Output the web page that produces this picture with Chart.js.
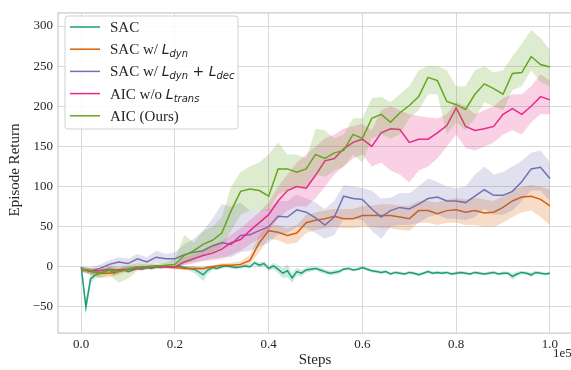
<!DOCTYPE html>
<html>
<head>
<meta charset="utf-8">
<script src="https://cdn.jsdelivr.net/npm/chart.js@4.4.1/dist/chart.umd.min.js"></script>
<style>
  html, body { margin: 0; padding: 0; background: #ffffff; }
  #chart { display: block; }
</style>
</head>
<body>
<canvas id="chart" width="571" height="370"></canvas>
<script>
// x positions are in units of 1e5 steps
const steps = [];
for (let i = 0; i <= 50; i++) steps.push(i / 50);
const sacSteps = [];
for (let i = 0; i <= 100; i++) sacSteps.push(i / 100);

const sacMean = [0,-50,-15,-10,-8,-6,-4,-8,-5,-3, -6,-4,-2,-3,-1,-2,0,-1,1,0,
  0,1,-1,-2,-3,-6,-10,-4,-1,-2, 0,1,0,-1,0,1,0,5,2,4,
  -2,1,-3,-8,-5,-14,-6,-8,-4,-3, -2,-4,-6,-8,-7,-6,-3,-2,-4,-3,
  -1,-3,-5,-6,-7,-6,-9,-7,-8,-9, -7,-8,-10,-8,-6,-8,-7,-8,-7,-9,
  -8,-7,-8,-9,-7,-8,-9,-8,-7,-9, -8,-8,-12,-9,-7,-8,-10,-7,-8,-9, -8];
const sacSpread = [0,10,6,4,3,3,3,3,3,2, 2,2,2,2,2,2,2,2,2,2,
  2,2,2,3,4,6,8,5,3,2, 2,2,2,2,2,2,2,3,3,3,
  3,4,5,6,8,6,5,4,3,3, 2,3,3,3,3,3,2,2,2,2,
  2,2,2,2,2,2,2,2,2,2, 2,2,2,2,2,2,2,2,2,2,
  2,2,2,2,2,2,2,2,2,2, 2,2,4,3,2,2,3,2,2,2, 2];

const dynMean = [-3,-6,-8,-8,-6,-3,0,0,1,0, -1,-2,-2,-2,0,2,2,3,8,30,
  45,43,39,42,55,58,60,63,60,60, 64,64,64,64,62,60,70,70,66,70,
  71,68,70,67,68,74,82,87,88,84, 76];
const dynLo = [-6,-10,-14,-13,-10,-6,-2,-2,-1,-2, -3,-4,-4,-4,-2,0,0,0,3,18,
  35,33,28,30,42,46,48,50,48,48, 50,50,48,48,46,45,55,55,52,55,
  55,52,52,50,50,55,62,68,70,62, 52];
const dynHi = [0,-2,-3,-3,-2,0,2,2,3,2, 1,0,0,0,2,4,5,7,15,40,
  52,52,48,52,65,68,70,72,72,72, 76,76,78,78,76,76,82,82,80,84,
  86,84,86,84,82,88,95,100,102,100, 96];

const decMean = [-3,-5,-2,3,6,4,10,6,12,10, 10,15,18,20,26,30,28,39,40,45,
  50,63,62,71,68,61,52,62,88,85, 84,72,62,70,74,72,78,85,87,82,
  82,80,88,96,89,89,94,106,122,124, 110];
const decLo = [-6,-9,-6,-2,0,-2,3,0,5,3, 3,5,6,8,10,12,12,18,20,25,
  30,40,42,50,48,42,35,40,60,60, 58,45,35,50,52,52,55,62,65,60,
  60,58,62,72,65,65,70,82,95,95, 82];
const decHi = [0,-1,3,8,12,10,16,12,20,16, 18,28,35,45,60,78,75,80,70,70,
  72,82,82,90,85,80,72,82,102,100, 98,95,85,86,92,92,100,110,106,100,
  98,100,115,125,115,118,125,132,142,145, 130];

const noTransMean = [-3,-5,-5,-3,-4,-3,-2,-1,0,0, 0,6,10,14,17,22,30,34,45,55,
  65,82,95,100,98,114,132,135,147,155, 159,150,167,172,171,155,159,159,167,176,
  198,175,170,172,175,190,197,190,200,212, 208];
const noTransLo = [-6,-8,-8,-6,-7,-6,-4,-3,-2,-2, -2,2,4,7,8,10,15,20,28,35,
  45,60,70,75,75,85,100,115,125,135, 140,125,130,120,115,105,120,125,135,150,
  165,148,145,150,155,165,170,165,180,190, 190];
const noTransHi = [0,-2,-2,0,-1,0,0,1,2,2, 3,12,16,22,28,32,40,48,58,68,
  80,100,115,130,140,150,160,165,172,175, 178,170,195,200,195,190,188,186,185,190,
  205,200,190,195,200,210,215,215,225,240, 232];

const oursMean = [-3,-5,-8,-4,-6,-3,0,0,1,2, 3,14,20,28,33,42,70,94,97,95,
  88,122,122,118,122,140,135,142,145,165, 160,185,190,180,192,201,212,236,232,206,
  202,196,215,228,222,215,241,242,262,252, 249];
const oursLo = [-6,-10,-14,-10,-20,-15,-5,-3,-2,0, 0,3,8,15,18,25,45,65,70,70,
  70,90,95,100,100,115,112,120,125,140, 130,160,165,160,165,185,195,215,215,165,
  180,170,185,205,200,195,220,225,245,230, 225];
const oursHi = [0,-2,-3,2,0,2,4,3,4,5, 10,40,30,45,50,62,100,118,125,130,
  140,155,140,140,135,172,170,160,165,185, 185,210,212,205,215,225,245,250,250,245,
  225,225,245,250,242,245,262,278,295,285, 270];

const xTicks = [0, 0.2, 0.4, 0.6, 0.8, 1.0];
const yTicks = [-50, 0, 50, 100, 150, 200, 250, 300];

const SERIF = '"Liberation Serif", "Times New Roman", serif';
const MATH = '"DejaVu Sans", sans-serif';
const TEXT = '#262626';

const series = [
  { label: 'SAC', color: '#1b9e77', rgb: '27,158,119', xs: sacSteps, mean: sacMean,
    lo: sacMean.map((v, i) => v - sacSpread[i]), hi: sacMean.map((v, i) => v + sacSpread[i]),
    parts: [['SAC', 't']] },
  { label: 'SAC w/ Ldyn', color: '#d95f02', rgb: '217,95,2', xs: steps, mean: dynMean, lo: dynLo, hi: dynHi,
    parts: [['SAC w/ ', 't'], ['L', 'm'], ['dyn', 's']] },
  { label: 'SAC w/ Ldyn + Ldec', color: '#7570b3', rgb: '117,112,179', xs: steps, mean: decMean, lo: decLo, hi: decHi,
    parts: [['SAC w/ ', 't'], ['L', 'm'], ['dyn', 's'], [' + ', 'r'], ['L', 'm'], ['dec', 's']] },
  { label: 'AIC w/o Ltrans', color: '#e7298a', rgb: '231,41,138', xs: steps, mean: noTransMean, lo: noTransLo, hi: noTransHi,
    parts: [['AIC w/o ', 't'], ['L', 'm'], ['trans', 's']] },
  { label: 'AIC (Ours)', color: '#66a61e', rgb: '102,166,30', xs: steps, mean: oursMean, lo: oursLo, hi: oursHi,
    parts: [['AIC (Ours)', 't']] }
];

const toPts = (xs, ys) => xs.map((x, i) => ({ x: x, y: ys[i] }));

const datasets = [];
series.forEach((s, k) => {
  const order = 100 - k * 3;
  datasets.push({
    label: s.label + ' lo', data: toPts(s.xs, s.lo), borderWidth: 0, pointRadius: 0,
    fill: false, order: order
  });
  datasets.push({
    label: s.label + ' hi', data: toPts(s.xs, s.hi), borderWidth: 0, pointRadius: 0,
    fill: '-1', backgroundColor: 'rgba(' + s.rgb + ',0.22)', order: order
  });
  datasets.push({
    label: s.label, data: toPts(s.xs, s.mean), borderColor: s.color, borderWidth: 1.5,
    pointRadius: 0, fill: false, order: order - 1
  });
});

const framePlugin = {
  id: 'frame',
  afterDatasetsDraw(chart) {
    const { ctx, chartArea: a } = chart;
    ctx.save();
    ctx.strokeStyle = '#cccccc';
    ctx.lineWidth = 1.25;
    ctx.beginPath();
    ctx.moveTo(a.right + 5, a.top);
    ctx.lineTo(a.left, a.top);
    ctx.lineTo(a.left, a.bottom);
    ctx.lineTo(a.right + 5, a.bottom);
    ctx.stroke();
    ctx.restore();
  }
};

function drawParts(ctx, x, base, parts) {
  parts.forEach(([txt, kind]) => {
    let dy = 0;
    if (kind === 't') ctx.font = '15px ' + SERIF;
    else if (kind === 'm') ctx.font = 'italic 14px ' + MATH;
    else if (kind === 's') { ctx.font = 'italic 10px ' + MATH; dy = 3; }
    else ctx.font = '14px ' + MATH;
    ctx.fillText(txt, x, base + dy);
    x += ctx.measureText(txt).width;
  });
}

const textPlugin = {
  id: 'texts',
  afterDraw(chart) {
    const ctx = chart.ctx;
    ctx.save();
    ctx.fillStyle = TEXT;
    ctx.font = '15px ' + SERIF;
    ctx.textAlign = 'center';
    ctx.textBaseline = 'middle';
    ctx.fillText('Steps', 315, 360);
    ctx.textAlign = 'left';
    ctx.font = '13px ' + SERIF;
    ctx.fillText('1e5', 553, 354);
    ctx.translate(15, 170);
    ctx.rotate(-Math.PI / 2);
    ctx.textAlign = 'center';
    ctx.font = '15px ' + SERIF;
    ctx.fillText('Episode Return', 0, 0);
    ctx.restore();

    // legend
    ctx.save();
    const bx = 65, by = 16, bw = 173, bh = 113, r = 3;
    ctx.beginPath();
    ctx.moveTo(bx + r, by);
    ctx.arcTo(bx + bw, by, bx + bw, by + bh, r);
    ctx.arcTo(bx + bw, by + bh, bx, by + bh, r);
    ctx.arcTo(bx, by + bh, bx, by, r);
    ctx.arcTo(bx, by, bx + bw, by, r);
    ctx.closePath();
    ctx.fillStyle = 'rgba(255,255,255,0.85)';
    ctx.fill();
    ctx.strokeStyle = 'rgba(204,204,204,0.9)';
    ctx.lineWidth = 1;
    ctx.stroke();
    series.forEach((s, i) => {
      const cy = 27 + 22.2 * i;
      ctx.strokeStyle = s.color;
      ctx.lineWidth = 1.5;
      ctx.beginPath();
      ctx.moveTo(70, cy);
      ctx.lineTo(100, cy);
      ctx.stroke();
      ctx.fillStyle = TEXT;
      ctx.textAlign = 'left';
      ctx.textBaseline = 'alphabetic';
      drawParts(ctx, 110, cy + 5, s.parts);
    });
    ctx.restore();
  }
};

new Chart(document.getElementById('chart'), {
  type: 'line',
  data: { datasets: datasets },
  plugins: [framePlugin, textPlugin],
  options: {
    responsive: false,
    animation: false,
    devicePixelRatio: 1,
    layout: { padding: { top: 7, right: 0, left: 0, bottom: 0 } },
    elements: { line: { tension: 0 } },
    plugins: { legend: { display: false }, tooltip: { enabled: false } },
    scales: {
      x: {
        type: 'linear',
        min: -0.0495,
        max: 1.045,
        afterBuildTicks: (scale) => { scale.ticks = xTicks.map(v => ({ value: v })); },
        afterFit: (scale) => { scale.height = 37; },
        ticks: {
          callback: (v) => Number(v).toFixed(1),
          font: { family: SERIF, size: 13 },
          color: TEXT,
          padding: 4,
          maxRotation: 0
        },
        grid: { color: '#d9d9d9', lineWidth: 1, drawTicks: false },
        border: { display: false }
      },
      y: {
        min: -82.5,
        max: 316.5,
        afterBuildTicks: (scale) => { scale.ticks = yTicks.map(v => ({ value: v })); },
        afterFit: (scale) => { scale.width = 58; },
        ticks: {
          callback: (v) => v < 0 ? '\u2212' + Math.abs(v) : String(v),
          font: { family: SERIF, size: 13 },
          color: TEXT,
          padding: 5
        },
        grid: { color: '#d9d9d9', lineWidth: 1, drawTicks: false },
        border: { display: false }
      }
    }
  }
});
</script>
</body>
</html>
